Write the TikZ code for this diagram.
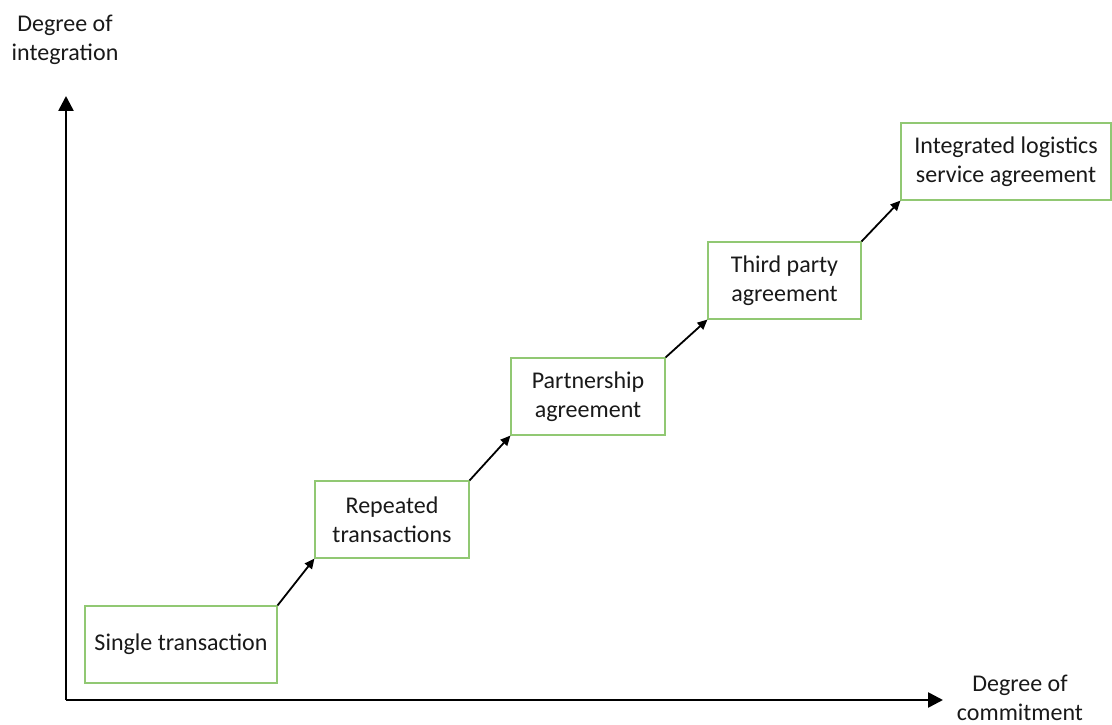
\documentclass[tikz,border=0pt]{standalone}
\usepackage{fontspec}
\setmainfont{Carlito}
\usetikzlibrary{arrows.meta}
\definecolor{boxgreen}{RGB}{145,200,115}
\definecolor{inktext}{RGB}{25,25,25}
\begin{document}
\begin{tikzpicture}[x=1pt,y=-1pt,
  stagebox/.style={draw=boxgreen,line width=1.1pt,fill=white,inner sep=0pt,
    align=center,text=inktext,font=\fontsize{24}{29}\selectfont,minimum height=77pt},
  axislabel/.style={align=center,text=inktext,font=\fontsize{24}{29}\selectfont,inner sep=0pt},
  axis/.style={line width=2.6pt,-{Triangle[length=15pt,width=15pt]}},
  stepline/.style={line width=1.8pt,-{Triangle[length=10pt,width=9pt]}}]
  \useasboundingbox (0,0) rectangle (1112,725);

  % axes
  \coordinate (origin) at (66,700);
  \coordinate (ytip) at (66,96);
  \coordinate (xtip) at (943,700);
  \draw[axis] (origin) -- (ytip);
  \draw[axis] (origin) -- (xtip);
  \node[axislabel] (ylab) at (65,40) {Degree of\\integration};
  \node[axislabel] (xlab) at (1020,698) {Degree of\\commitment};

  % stages
  \node[stagebox,minimum width=192pt] (s1) at (181,644.5) {Single transaction};
  \node[stagebox,minimum width=154pt] (s2) at (392,519.5) {Repeated\\transactions};
  \node[stagebox,minimum width=154pt] (s3) at (588,396.5) {Partnership\\agreement};
  \node[stagebox,minimum width=153pt] (s4) at (784.5,280.5) {Third party\\agreement};
  \node[stagebox,minimum width=210pt] (s5) at (1006,161.5) {Integrated logistics\\service agreement};

  % steps between stages
  \draw[stepline] (s1.north east) -- (s2.south west);
  \draw[stepline] (s2.north east) -- (s3.south west);
  \draw[stepline] (s3.north east) -- (s4.south west);
  \draw[stepline] (s4.north east) -- (s5.south west);
\end{tikzpicture}
\end{document}
